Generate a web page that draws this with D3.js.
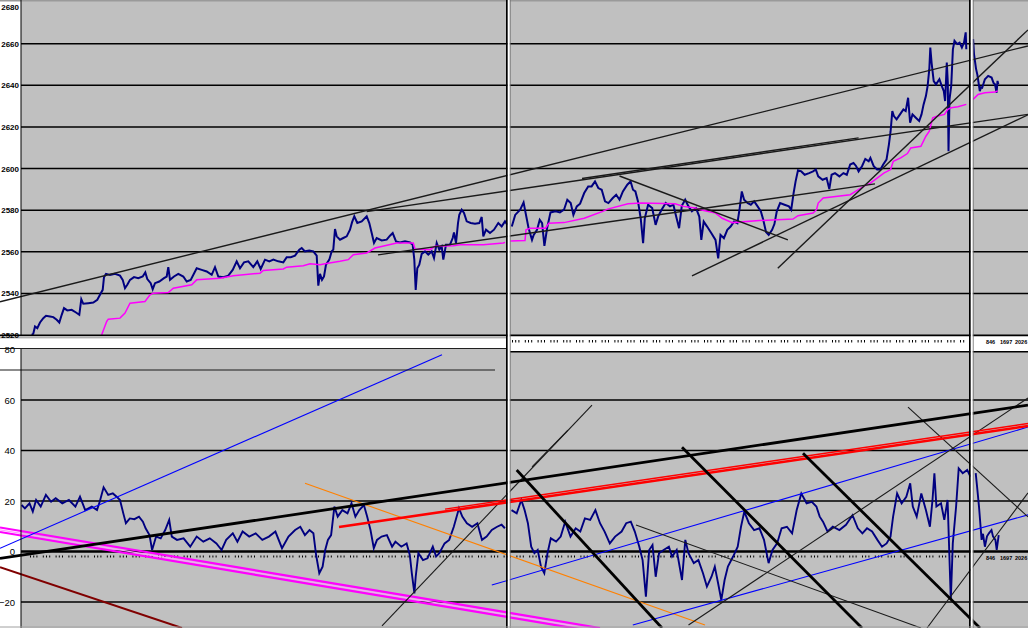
<!DOCTYPE html>
<html><head><meta charset="utf-8">
<script src="https://cdnjs.cloudflare.com/ajax/libs/d3/7.8.5/d3.min.js"></script>
<style>html,body{margin:0;padding:0;background:#fff;overflow:hidden}</style>
</head><body><svg id="c" width="1028" height="628"></svg>
<script>
// ---------- DATA ----------
const priceTicks = [2520, 2540, 2560, 2580, 2600, 2620, 2640, 2660, 2680];
const oscTicks = [-20, 0, 20, 40, 60, 80];
const oscGrid = [-20, 20, 40, 60];
const sectionLabels = ["846", "1697", "2026"];

// price (bar index, value) - three sessions
const priceS1 = [[10.7,2520.1],[12.3,2520.6],[14,2524.1],[16.3,2523.3],[19,2526],[22.3,2528.1],[25,2529.2],[29,2528.9],[32.3,2528.6],[35.7,2527.3],[38.3,2526],[40.7,2529.7],[43,2532.9],[46.3,2531.8],[50.7,2532.1],[55,2530.8],[58.3,2529.7],[60.3,2537.2],[62.3,2535],[67.3,2535.3],[72.3,2535.6],[76.3,2536.9],[79,2539.3],[81.7,2541.7],[83,2547.8],[85,2549.4],[89,2548.9],[94,2549.4],[99,2548.5],[101.7,2546.5],[104,2542.5],[106.3,2544.1],[109,2546.5],[113,2547.8],[117.3,2547.3],[121.7,2548.1],[124.3,2550.1],[126.3,2546.9],[129.7,2544.9],[131.7,2542],[134,2544.9],[138.3,2545.7],[143,2547.3],[145.7,2548.1],[147.3,2552.6],[149,2546.5],[153,2548.1],[157.3,2549.4],[162.3,2548.1],[165.7,2545.7],[169.7,2546.5],[175.7,2552.1],[180.7,2551.3],[185.7,2550.5],[190.7,2548.9],[194,2552.6],[197.3,2548.1],[202.3,2547.8],[207.3,2548.5],[211.7,2551.3],[215.7,2555.4],[219,2552.1],[223,2554.9],[227.3,2555.4],[232.3,2552.6],[236.3,2555.4],[239.7,2551.7],[244,2556.2],[248.3,2555.4],[252.3,2556.2],[257.3,2555.4],[262.3,2554.9],[265.7,2557.4],[269.7,2557.4],[274,2558.1],[278.3,2561],[280.7,2561.8],[284,2560.2],[288.3,2560.6],[292.3,2560.2],[295.7,2558.1],[297.3,2543.7],[299,2549.4],[301,2546.5],[303,2548.1],[305,2553.8],[308.3,2556.2],[310.7,2560.2],[312.3,2561],[314,2570.9],[315.7,2567.4],[319,2565.8],[322.3,2566.6],[325.7,2567.4],[329,2570.6],[331,2574.1],[333.3,2577],[336.3,2573.8],[340.7,2574.6],[345.7,2577],[348.3,2573.8],[350.7,2569],[353,2564.2],[355.7,2566.6],[360.7,2565.4],[365.7,2565.8],[369,2567.7],[371.7,2569],[375,2565],[379,2564.5],[384,2565],[389,2564.5],[391.7,2563.4],[393.3,2556.2],[394.7,2541.7],[396.3,2552.1],[398.3,2553.8],[400.7,2559],[404,2560.2],[407.3,2558.6],[410.7,2560.2],[413,2557],[415.7,2564.2],[418.3,2561],[420.7,2562.6],[422.3,2556.2],[425,2563.4],[429,2563.4],[431.7,2566.6],[433,2569.3],[435,2564.2],[437,2573.8],[438.3,2577.8],[440.7,2580.2],[443,2578.6],[445.7,2574.6],[449.7,2573.8],[454,2573.5],[458.3,2573.8],[460.7,2576.7],[462.3,2567.4],[465,2570.6],[469,2569],[473,2570.6],[477.3,2573.8],[480.7,2572.2],[484,2574.6],[486.3,2573]];
const priceS2 = [[490.8,2572.1],[494.2,2577.7],[499.2,2580.2],[502.6,2583.7],[504.3,2579.4],[507.6,2571.3],[511,2565.7],[512.7,2568.1],[516,2570.5],[518.7,2575.3],[521.1,2573.7],[523.4,2562.8],[526.1,2571.3],[529.5,2578.9],[534.6,2579.4],[538.9,2578.9],[543,2580.2],[546.3,2585],[549.7,2583.4],[552.4,2577.7],[555.8,2581.8],[559.1,2583.1],[563.2,2588.2],[567.2,2591.4],[570.6,2591.4],[574,2593.8],[577.3,2590.6],[580.7,2589.8],[584,2584.2],[587.4,2583.4],[591.8,2585.8],[595.2,2587.4],[598.5,2585],[601.9,2589],[606.3,2592.2],[609.6,2593.8],[612,2589.8],[614.4,2589],[617,2584.2],[619.7,2576.1],[622.1,2564.1],[623.8,2576.1],[627.1,2582.6],[631.2,2581],[634.6,2572.9],[637.2,2577],[640.6,2580.2],[644.7,2583.4],[649,2581.8],[652.4,2582.6],[654.8,2577.7],[658.1,2571.3],[660.8,2582.1],[664.2,2585],[667.5,2581.8],[670.9,2579.4],[675,2581],[678.3,2576.9],[680.3,2565.7],[682.7,2574.5],[686.1,2572.1],[690.4,2568.9],[694.5,2565.7],[697.2,2556.8],[699.5,2568.1],[702.9,2566.5],[706.3,2570.5],[709.6,2572.1],[713,2574.5],[716.4,2573.7],[718.7,2581],[720.8,2589],[723.1,2585],[726.5,2583.4],[729.8,2582.6],[733.2,2584.2],[736.6,2581.8],[739.9,2579.4],[742.3,2575.3],[745,2569.5],[747.7,2568.1],[751.1,2570.5],[753.4,2573.3],[755.8,2579.4],[759.1,2583.4],[763.5,2582.6],[767.9,2581.8],[770.2,2580.2],[772.6,2588.2],[774.6,2593.8],[777,2599.1],[780.3,2598.6],[783.7,2597],[788.1,2597.8],[792.1,2598.6],[794.8,2599.5],[797.2,2596.2],[801.6,2594.6],[805.6,2595.4],[808.3,2590.1],[810.6,2597],[814,2597.8],[818.4,2596.2],[822.4,2597.8],[825.8,2597],[829.2,2601.9],[832.5,2602.7],[835.2,2601.1],[837.6,2598.6],[841,2601.1],[844.3,2604.6],[847.7,2603.5],[849.4,2605.1],[852.7,2601.1],[856.1,2599.5],[859.5,2599.5],[862.2,2601.9],[865.5,2604.3],[867.9,2611.5],[869.6,2617.9],[871.3,2627.6],[872.9,2625.2],[875.6,2623.6],[879,2626],[882.4,2628.4],[884.7,2627.6],[887.1,2634],[889.1,2622],[891.5,2626],[894.8,2624.4],[898.2,2622.8],[900.5,2626],[902.6,2630.8],[904.9,2634.8],[906.6,2639.6],[908.3,2647.7],[909.3,2658.1],[910.6,2650.8],[912.7,2642],[915,2640.4],[918.4,2642.9],[920.8,2639.6],[922.8,2637.2],[924.1,2632.4],[925.8,2650.9],[926.8,2641.3],[927.5,2608.3],[928.5,2633.2],[930.2,2639.6],[931.9,2657.3],[933.5,2661.4],[936.2,2659.8],[938.6,2660.5],[940.9,2658.1],[943,2660.5],[944.7,2665.4],[945.3,2657.3]];
const priceS3 = [[952.1,2662.2],[953,2655],[953.7,2652.5],[955,2648],[956.4,2645],[958.8,2637.2],[960,2639],[961.2,2638.8],[963.9,2642.9],[967.2,2644.5],[970.6,2643.7],[972.6,2641],[974,2640.5],[975.6,2636.4],[976.5,2642.1],[977.3,2640.5]];

// running average (step-like) per session
const avgS1 = [[80.7,2520.1],[85.7,2526.5],[87.3,2527.6],[99,2528.1],[104,2530.5],[109,2535.3],[124,2536.1],[129,2539.3],[132.3,2540.1],[147.3,2540.4],[152.3,2542.5],[170.7,2544.1],[175.7,2546.5],[199,2547.3],[212.3,2548.5],[239,2549.7],[242.3,2551],[262.3,2551.7],[265.7,2552.6],[282.3,2553.3],[289,2554.2],[299,2553.8],[304,2554.2],[319,2555.4],[327.3,2556.2],[332.3,2558.6],[345.7,2559.4],[354,2561.8],[375.7,2564.2],[392.3,2564.2],[394,2561.3],[409,2561],[414,2562.6],[432.3,2562.9],[439,2563.4],[462.3,2563.4],[482.3,2564.2],[484,2564.5]];
const avgS2 = [[489.5,2565.2],[504,2565.4],[505,2570.5],[509.3,2571.3],[524.5,2571.3],[527.8,2573.7],[543,2574],[563.2,2576.1],[581.7,2579.4],[586.7,2580.5],[607,2583.1],[620.4,2583.4],[654,2583.1],[662.5,2581.8],[674.3,2581],[679.3,2580.2],[694.5,2578.6],[701.2,2576.1],[711.3,2574],[738.3,2575],[772,2575.7],[777,2577.3],[792,2578.6],[795.5,2580.2],[797.2,2583.4],[802.2,2585.8],[829.2,2587.4],[842.6,2591.4],[849.4,2593],[856.1,2595.4],[862.8,2597.8],[869.6,2599.5],[872.3,2603.5],[879.7,2605.1],[886.4,2607.2],[889.8,2609.9],[899.9,2610.7],[904.9,2615.5],[908.3,2617.9],[911.7,2624.4],[916.7,2625.2],[923.5,2626],[926.8,2628.4],[930.2,2629.2],[936.9,2629.7],[945.3,2630.8]];
const avgS3 = [[952.1,2633.2],[957.1,2635.6],[963.9,2636.4],[974,2636.7],[976.7,2637.3]];

// oscillator (bar index, value)
const oscS1 = [[0.6,18.4],[3.9,17.1],[8.5,19.1],[11.8,15.8],[15.1,20.4],[19.7,17.8],[24.9,22.4],[30.1,19.7],[34.7,21.1],[41.3,19.1],[47.9,20.4],[54.4,17.8],[59,21.7],[64.2,16.4],[70.8,17.8],[76,16.4],[78.7,19.7],[82.6,25.4],[87.2,22.4],[91.8,23],[95.7,21.7],[99,20.4],[102.3,15.1],[104.9,11.2],[108.8,13.1],[113.4,12.8],[118,13.8],[121.9,11.8],[124.6,9.2],[128.5,6.5],[131.1,0.6],[135.1,5.9],[139.7,5.2],[144.2,8.5],[148.2,12.5],[150.8,5.9],[156,4.6],[162.6,5.2],[169.2,1.9],[175.7,5.9],[182.3,3.9],[188.8,5.2],[195.4,3.2],[200.6,0.6],[205.2,4.6],[211.8,7.2],[216.4,3.9],[221.6,7.9],[228.2,5.9],[234.7,7.2],[241.3,4.6],[247.9,5.9],[254.4,7.9],[261,1.3],[267.5,5.9],[274.1,8.5],[279.3,9.8],[283.9,6.5],[288.5,8.5],[292.4,7.2],[295.1,-1.4],[298.3,-8.6],[301.6,-6],[304.2,0.6],[306.9,4.6],[310.1,6.5],[313.4,17.8],[316.7,13.8],[321.3,16.4],[326.5,15.1],[330.5,19.1],[334.4,13.8],[338.3,16.4],[342.9,18.4],[346.2,13.8],[349.5,8.5],[352.8,1.3],[356,4.6],[360.6,5.9],[365.9,6.5],[371.1,1.9],[374.4,3.9],[380.3,1.9],[385.6,3.2],[388.8,-1.4],[390.8,-8.6],[393.4,-16.6],[394.7,-10],[397.4,-0.7],[402,-3.4],[406.5,-2.7],[411.8,1.9],[415.1,-2],[418.3,-0.7],[423.6,3.2],[428.2,4.6],[432.8,9.8],[438,17.1],[441.3,13.8],[445.9,11.2],[451.1,9.8],[456.4,11.2],[461,4.6],[465.6,5.9],[470.8,8.5],[476.1,9.8],[480.6,10.6],[483.9,9.2]];
const oscS2 = [[490.5,16.4],[495.7,15.1],[500.3,20.4],[503.6,16.4],[506.9,11.2],[510.2,1.9],[513.4,-0.7],[516.7,0.6],[520,-6],[523.3,-8.6],[526.5,-0.7],[529.8,5.2],[535.1,3.9],[539.7,5.9],[544.2,11.8],[549.5,5.9],[554.7,9.2],[559.3,7.9],[563.9,13.1],[569.2,12.5],[574.4,16.4],[579,11.2],[583.6,7.9],[588.8,3.2],[594.1,5.9],[600.6,7.9],[605.2,11.2],[609.8,11.8],[613.8,7.9],[618.3,1.9],[621.6,-3.4],[624.9,-17.9],[628.2,0.6],[631.5,2.6],[634.7,-10],[638,-0.7],[642.6,0.6],[647.9,1.9],[651.1,-2],[655.7,0.6],[661,-11.3],[664.3,4.6],[667.5,-0.7],[672.8,-4.6],[677.4,-3.4],[682,-8.6],[685.9,-13.9],[690.5,-10],[693.8,-6],[697.1,-12.6],[700.3,-19.2],[703.6,-11.3],[706.9,-6],[712.1,-2],[716.7,1.9],[720,9.8],[723.3,15.8],[727.9,11.2],[733.1,8.5],[738.4,9.2],[743,4.6],[747.6,-4.6],[751.5,0.6],[756.1,3.2],[760.6,9.2],[765.9,9.8],[771.1,7.2],[775.7,16.4],[780.3,23],[785.6,19.1],[790.8,19.7],[795.4,17.8],[798.7,13.8],[802,11.8],[806.6,7.9],[811.8,9.8],[818.4,8.5],[825,10.6],[831.5,14.4],[836.8,9.2],[841.4,7.2],[846,9.2],[851.1,7.9],[856.4,4.6],[861,1.9],[865.6,3.2],[869.5,5.9],[872.1,13.8],[876.1,23],[880.6,19.1],[885.3,21.7],[889.2,27],[891.8,17.8],[895.7,13.8],[900.3,23],[904.9,16.4],[908.9,9.8],[911.5,20.4],[913.4,31],[915.4,17.8],[920,19.1],[923.3,12.5],[926.6,20.4],[929.8,-19.2],[931.8,3.2],[935.1,17.8],[937.7,32.9],[941.7,31],[946.2,32.3],[949.5,29.6]];
const oscS3 = [[954.7,31],[956,26],[958,17.8],[960.6,4.6],[962,7],[963.9,1.9],[966,6],[967.9,7.2],[970.5,8.5],[972,6],[974.4,4.6],[975.7,0.6],[977.7,6.5]];

// trend lines on price panel: [bar1, value1, bar2, value2]
const priceLines = [
  [-21, 2536.0, 1007, 2658.9],
  [345.7, 2579.3, 1007, 2626.0],
  [561, 2595.2, 837.6, 2614.7],
  [357, 2558.5, 854, 2592.6],
  [598.5, 2596.4, 766.9, 2565.7],
  [671, 2548.4, 1007, 2625.8],
  [756.8, 2552.1, 1007, 2666.6]
];
// trend lines on oscillator panel: [bar1, value1, bar2, value2]
const oscBlueLines = [[-21, 1.27, 421, 77.9],[470.8, -13.3, 1007, 49.3],[611.8, -29.1, 1007, 14.5]];
const oscBlackThick = [[-21, -2.77, 1007, 58.0],[495.7, 32.3, 641, -30.3],[661, 41.3, 841, -30.3],[782, 38.9, 959, -30.3]];
const oscMagentaLines = [[-21, 9.5, 579, -30.3],[-21, 7.72, 579, -32.1]];
const oscDarkRedLines = [[-21, -6.26, 161, -30.3]];
const oscOrangeLines = [[284, 27.0, 684, -29.1]];
const oscRedLines = [[318, 9.7, 1007, 49.7],[424, 16.8, 1007, 50.7]];
const oscThinBlack = [[-21, 71.9, 474, 71.9],[361, -29.5, 571, 58.0],[511, 33.5, 547, 48.1],[615, 10.5, 900, -30.3],[667.5, -29.1, 1007, 60.8],[887, 57.2, 1007, 13.7],[906, -30.3, 1007, 23.2]];

// ---------- DRAW ----------
const svg = d3.select('#c');
const x = d3.scaleLinear().domain([0, 1007]).range([21, 1028]);
const yP = d3.scaleLinear().domain([2520, 2680]).range([335, 2]);
const yO = d3.scaleLinear().domain([-30.3, 80]).range([628, 349.5]);

const defs = svg.append('defs');
defs.append('clipPath').attr('id','clipTop').append('rect').attr('x',0).attr('y',0).attr('width',1028).attr('height',335);
defs.append('clipPath').attr('id','clipBot').append('rect').attr('x',0).attr('y',349).attr('width',1028).attr('height',279);

svg.append('rect').attr('width',1028).attr('height',628).attr('fill','#fff');
// panel backgrounds
svg.append('rect').attr('x',x(0)).attr('y',0).attr('width',x(1007)-x(0)).attr('height',335).attr('fill','#c0c0c0');
svg.append('rect').attr('x',x(0)).attr('y',349).attr('width',x(1007)-x(0)).attr('height',279).attr('fill','#c0c0c0');
svg.append('rect').attr('x',0).attr('y',0).attr('width',1028).attr('height',1.5).attr('fill','#9a9a9a');

// gridlines
const gTop = svg.append('g').attr('clip-path','url(#clipTop)');
gTop.selectAll('line.g').data(priceTicks.filter(d=>d>2520 && d<2680)).join('line')
  .attr('x1',x(0)).attr('x2',x(1007)).attr('y1',d=>yP(d)).attr('y2',d=>yP(d))
  .attr('stroke','#000').attr('stroke-width',1.5);
const gBot = svg.append('g').attr('clip-path','url(#clipBot)');
gBot.selectAll('line.g').data(oscGrid).join('line')
  .attr('x1',x(0)).attr('x2',x(1007)).attr('y1',d=>yO(d)).attr('y2',d=>yO(d))
  .attr('stroke','#000').attr('stroke-width',1.5);
gBot.append('line').attr('x1',x(0)).attr('x2',x(1007)).attr('y1',yO(0)).attr('y2',yO(0))
  .attr('stroke','#000').attr('stroke-width',2.5);

// decorative date-tick row under zero line
const tickRowX = d3.range(30, 966, 3.2);
gBot.append('g').selectAll('rect').data(tickRowX.filter((d,i)=> (i%4)!==3)).join('rect')
  .attr('x',d=>d).attr('y',yO(0)+4).attr('width',1).attr('height',2).attr('fill','#000');

// series
const line = (ys) => d3.line().x(d=>x(d[0])).y(d=>ys(d[1]));
[priceS1, priceS2, priceS3].forEach(s => gTop.append('path').datum(s).attr('d', line(yP))
  .attr('fill','none').attr('stroke','#000080').attr('stroke-width',2).attr('stroke-linejoin','miter'));
[avgS1, avgS2, avgS3].forEach(s => gTop.append('path').datum(s).attr('d', line(yP))
  .attr('fill','none').attr('stroke','#ff00ff').attr('stroke-width',1.5));
[oscS1, oscS2, oscS3].forEach(s => gBot.append('path').datum(s).attr('d', line(yO))
  .attr('fill','none').attr('stroke','#000080').attr('stroke-width',1.9));

// trend lines
function seg(g, data, ys, color, w) {
  g.append('g').selectAll('line').data(data).join('line')
    .attr('x1',d=>x(d[0])).attr('y1',d=>ys(d[1])).attr('x2',d=>x(d[2])).attr('y2',d=>ys(d[3]))
    .attr('stroke',color).attr('stroke-width',w);
}
seg(gTop, priceLines, yP, '#1a1a1a', 1.4);
seg(gBot, oscMagentaLines, yO, '#ff00ff', 2.2);
seg(gBot, oscMagentaLines.slice(0,1).map(d=>[d[0], d[1]-0.9, d[2], d[3]-0.9]), yO, '#ff9cff', 1.2);
seg(gBot, oscDarkRedLines, yO, '#800000', 2);
seg(gBot, oscOrangeLines, yO, '#ff8000', 1.1);
seg(gBot, oscBlueLines, yO, '#0000ff', 1.1);
seg(gBot, oscThinBlack, yO, '#1a1a1a', 1.1);
seg(gBot, oscRedLines.slice(0,1), yO, '#ff0000', 2.6);
seg(gBot, oscRedLines.slice(1), yO, '#ff0000', 1.4);
seg(gBot, oscBlackThick, yO, '#000', 2.8);

// left axis lines
svg.append('line').attr('x1',21).attr('x2',21).attr('y1',0).attr('y2',335).attr('stroke','#000').attr('stroke-width',1);
svg.append('line').attr('x1',21).attr('x2',21).attr('y1',349).attr('y2',628).attr('stroke','#000').attr('stroke-width',1);

// strip between panels
svg.append('line').attr('x1',0).attr('x2',1028).attr('y1',335.5).attr('y2',335.5).attr('stroke','#000').attr('stroke-width',2);
svg.append('rect').attr('x',0).attr('y',336.5).attr('width',507).attr('height',12).attr('fill','#fff');
svg.append('line').attr('x1',0).attr('x2',507).attr('y1',337.8).attr('y2',337.8).attr('stroke','#909090').attr('stroke-width',1);
svg.append('line').attr('x1',0).attr('x2',507).attr('y1',348.5).attr('y2',348.5).attr('stroke','#202020').attr('stroke-width',1);
svg.append('rect').attr('x',510).attr('y',336.5).attr('width',518).attr('height',15).attr('fill','#fff');
svg.append('line').attr('x1',510).attr('x2',1028).attr('y1',351.8).attr('y2',351.8).attr('stroke','#000').attr('stroke-width',1.5);
const stripTickX = d3.range(512, 966, 3.2);
svg.append('g').selectAll('rect').data(stripTickX.filter((d,i)=> (i%4)!==3)).join('rect')
  .attr('x',d=>d).attr('y',340).attr('width',1).attr('height',2.5).attr('fill','#000');

// session labels in third section
const lblX = [986, 1000, 1015];
svg.append('g').selectAll('text').data(sectionLabels).join('text')
  .attr('x',(d,i)=>lblX[i]).attr('y',343.5).text(d=>d)
  .attr('font-family','Liberation Sans, Arial').attr('font-size',5.5).attr('font-weight','bold');
svg.append('g').selectAll('text').data(sectionLabels).join('text')
  .attr('x',(d,i)=>lblX[i]).attr('y',yO(0)+9).text(d=>d)
  .attr('font-family','Liberation Sans, Arial').attr('font-size',5.5).attr('font-weight','bold');

// session dividers
[[506, 1], [969, 2]].forEach(([x0]) => {
  svg.append('rect').attr('x',x0).attr('y',0).attr('width',1.8).attr('height',628).attr('fill','#000');
  svg.append('rect').attr('x',x0+1.8).attr('y',0).attr('width',2).attr('height',628).attr('fill','#fff');
  svg.append('rect').attr('x',x0+3.8).attr('y',0).attr('width',0.8).attr('height',628).attr('fill','#707070');
});
svg.append('line').attr('x1',0).attr('x2',1028).attr('y1',627).attr('y2',627).attr('stroke','#a0a0a0').attr('stroke-width',1);

// axes labels
const axT = svg.append('g').attr('transform','translate(21,0)')
  .call(d3.axisLeft(yP).tickValues(priceTicks).tickSize(0).tickPadding(2).tickFormat(d3.format('d')));
axT.select('.domain').remove();
axT.selectAll('text').attr('font-family','Liberation Sans, Arial').attr('font-size',8).attr('font-weight','bold').attr('fill','#000');
axT.selectAll('.tick').filter(d=>d===2680).select('text').attr('dy','0.95em');
const axB = svg.append('g').attr('transform','translate(21,0)')
  .call(d3.axisLeft(yO).tickValues(oscTicks).tickSize(0).tickPadding(6).tickFormat(d3.format('d')));
axB.select('.domain').remove();
axB.selectAll('text').attr('font-family','Liberation Sans, Arial').attr('font-size',9.5).attr('fill','#000');
</script></body></html>
